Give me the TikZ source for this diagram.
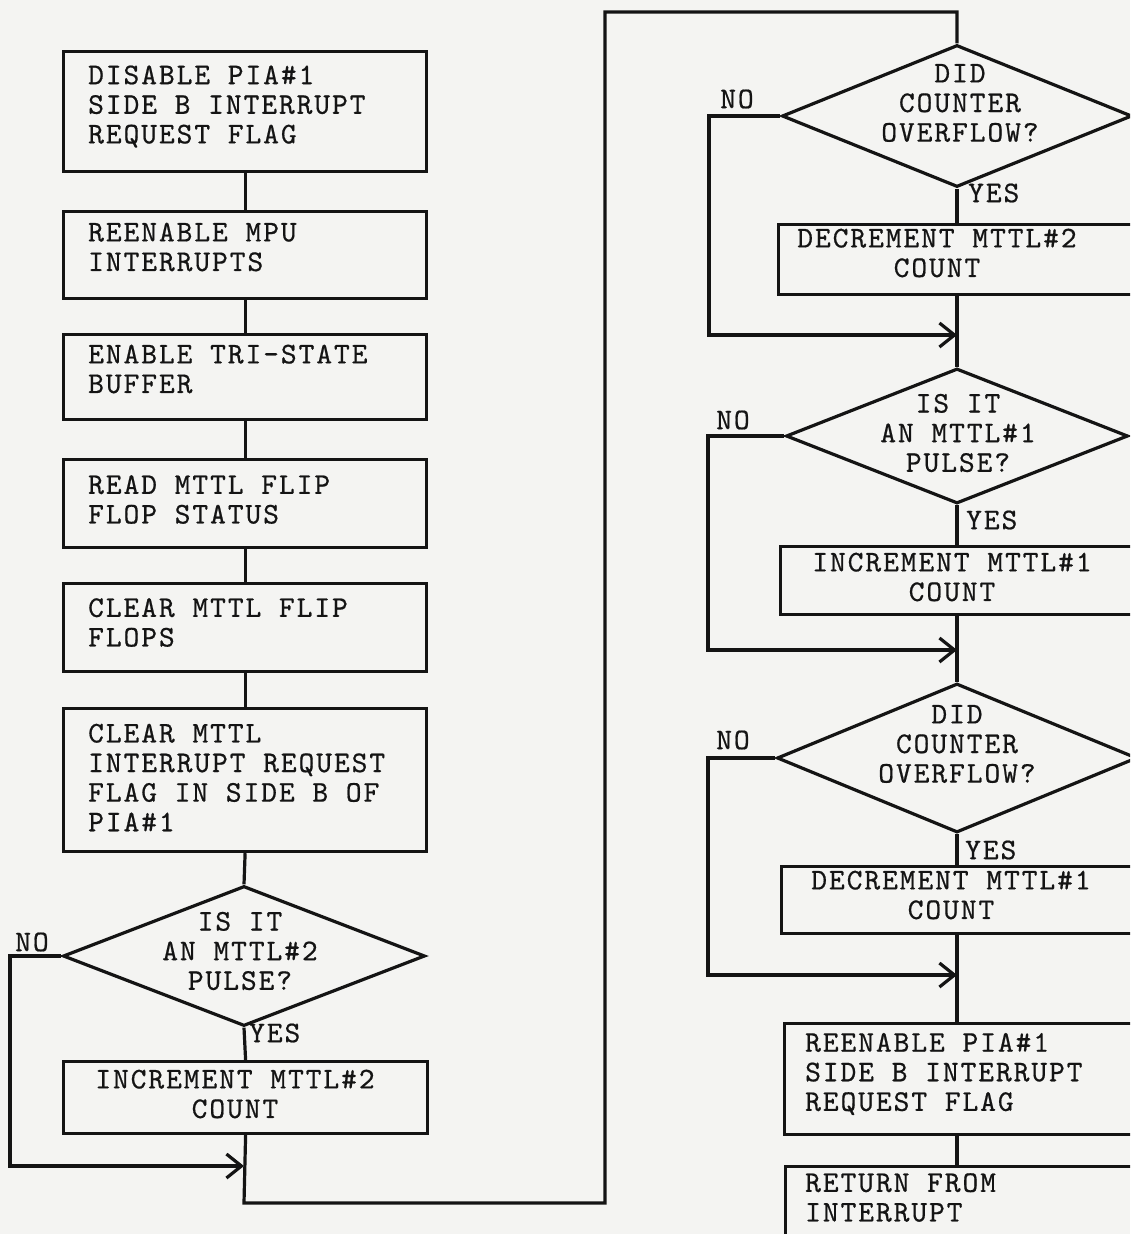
\documentclass[tikz,border=0pt]{standalone}
\usepackage{fontspec}
\setmonofont{lmmono10-regular.otf}[LetterSpace=6.5, FakeBold=0.6]
\usetikzlibrary{shapes.geometric,arrows.meta}
\definecolor{bgcol}{RGB}{244,244,242}
\definecolor{ink}{RGB}{20,20,20}
\tikzset{
  flow/.style={draw=ink, line width=3.2pt, line join=miter},
  procbox/.style={draw=ink, line width=3.2pt, rectangle, inner sep=0pt, anchor=north west},
  decide/.style={draw=ink, diamond, line width=3.2pt, inner sep=0pt},
  txt/.style={text=ink, font=\ttfamily\fontsize{30}{29.6}\selectfont, inner sep=0pt},
  arr/.style={-{Straight Barb[length=15pt,width=24pt]}},
}
\begin{document}
\begin{tikzpicture}[x=1pt,y=-1pt]
\path[use as bounding box, fill=bgcol] (0,0) rectangle (1130,1234);
\clip (0,0) rectangle (1130,1234);

% ---------- left column ----------
\node[procbox, minimum width=363pt, minimum height=120pt] (b1) at (62,50) {};
\node[procbox, minimum width=363pt, minimum height=87pt]  (b2) at (62,210) {};
\node[procbox, minimum width=363pt, minimum height=85pt]  (b3) at (62,333) {};
\node[procbox, minimum width=363pt, minimum height=88pt]  (b4) at (62,458) {};
\node[procbox, minimum width=363pt, minimum height=88pt]  (b5) at (62,582) {};
\node[procbox, minimum width=363pt, minimum height=143pt] (b6) at (62,707) {};
\node[decide, minimum width=362pt, minimum height=140pt]  (dL) at (244,956) {};
\node[procbox, minimum width=364pt, minimum height=72pt]  (b7) at (62,1060) {};

\node[txt, align=left, anchor=west] (t1) at (88,106.5) {DISABLE PIA\#1\\SIDE B INTERRUPT\\REQUEST FLAG};
\node[txt, align=left, anchor=west] (t2) at (88,247) {REENABLE MPU\\INTERRUPTS};
\node[txt, align=left, anchor=west] (t3) at (88,369) {ENABLE TRI-STATE\\BUFFER};
\node[txt, align=left, anchor=west] (t4) at (88,499.5) {READ MTTL FLIP\\FLOP STATUS};
\node[txt, align=left, anchor=west] (t5) at (88,622.5) {CLEAR MTTL FLIP\\FLOPS};
\node[txt, align=left, anchor=west] (t6) at (88,777.5) {CLEAR MTTL\\INTERRUPT REQUEST\\FLAG IN SIDE B OF\\PIA\#1};
\node[txt, align=center] (tdL) at (240,951) {IS IT\\AN MTTL\#2\\PULSE?};
\node[txt, align=center] (t7) at (235,1094) {INCREMENT MTTL\#2\\COUNT};
\node[txt] (noL) at (32,942) {NO};
\node[txt, anchor=west] (yesL) at (249,1033) {YES};

\draw[flow] (b1.south) -- (b2.north);
\draw[flow] (b2.south) -- (b3.north);
\draw[flow] (b3.south) -- (b4.north);
\draw[flow] (b4.south) -- (b5.north);
\draw[flow] (b5.south) -- (b6.north);
\draw[flow] (b6.south) -- (dL.north);
\draw[flow] (dL.south) -- (b7.north);

\coordinate (nL) at (10,1166);
\coordinate (jL) at (244,1166);
\draw[flow, arr] (dL.west) -| (nL) -- (jL);

\coordinate (cL) at (244,1203);
\coordinate (cM1) at (605,1203);
\coordinate (cM2) at (605,12);
\coordinate (cR) at (957,12);

% ---------- right column ----------
\node[decide, minimum width=350pt, minimum height=142pt] (dA) at (957,116) {};
\node[procbox, minimum width=373pt, minimum height=70pt]  (bA) at (777,223) {};
\node[decide, minimum width=342pt, minimum height=135pt] (dB) at (957,436) {};
\node[procbox, minimum width=371pt, minimum height=68pt]  (bB) at (779,545) {};
\node[decide, minimum width=360pt, minimum height=149pt] (dC) at (957,758) {};
\node[procbox, minimum width=370pt, minimum height=67pt]  (bC) at (780,865) {};
\node[procbox, minimum width=367pt, minimum height=111pt] (bD) at (783,1022) {};
\node[procbox, minimum width=366pt, minimum height=95pt]  (bE) at (784,1165) {};

\draw[flow] (b7.south) -- (cL) -- (cM1) -- (cM2) -- (cR) -- (dA.north);

\node[txt, align=center] (tdA) at (960,103) {DID\\COUNTER\\OVERFLOW?};
\node[txt, align=center] (tA) at (937,253) {DECREMENT MTTL\#2\\COUNT};
\node[txt, align=center] (tdB) at (958,433) {IS IT\\AN MTTL\#1\\PULSE?};
\node[txt, align=center] (tB) at (952,577) {INCREMENT MTTL\#1\\COUNT};
\node[txt, align=center] (tdC) at (957,744) {DID\\COUNTER\\OVERFLOW?};
\node[txt, align=center] (tC) at (951,895) {DECREMENT MTTL\#1\\COUNT};
\node[txt, align=left, anchor=west] (tD) at (805,1074) {REENABLE PIA\#1\\SIDE B INTERRUPT\\REQUEST FLAG};
\node[txt, align=left, anchor=west] (tE) at (805,1197.5) {RETURN FROM\\INTERRUPT};

\node[txt] (noA) at (737,99) {NO};
\node[txt] (noB) at (733,420) {NO};
\node[txt] (noC) at (733,740) {NO};
\node[txt, anchor=west] (yesA) at (968,193) {YES};
\node[txt, anchor=west] (yesB) at (966,520) {YES};
\node[txt, anchor=west] (yesC) at (965,850) {YES};

\draw[flow] (dA.south) -- (dA.south |- bA.north);
\coordinate (nA) at (709,335);
\coordinate (jA) at (957,335);
\draw[flow, arr] (dA.west) -| (nA) -- (jA);
\draw[flow] (dA.south |- bA.south) -- (dB.north);

\draw[flow] (dB.south) -- (dB.south |- bB.north);
\coordinate (nB) at (708,650);
\coordinate (jB) at (957,650);
\draw[flow, arr] (dB.west) -| (nB) -- (jB);
\draw[flow] (dB.south |- bB.south) -- (dC.north);

\draw[flow] (dC.south) -- (dC.south |- bC.north);
\coordinate (nC) at (708,975);
\coordinate (jC) at (957,975);
\draw[flow, arr] (dC.west) -| (nC) -- (jC);
\draw[flow] (dC.south |- bC.south) -- (dC.south |- bD.north);
\draw[flow] (dC.south |- bD.south) -- (dC.south |- bE.north);
\end{tikzpicture}
\end{document}
